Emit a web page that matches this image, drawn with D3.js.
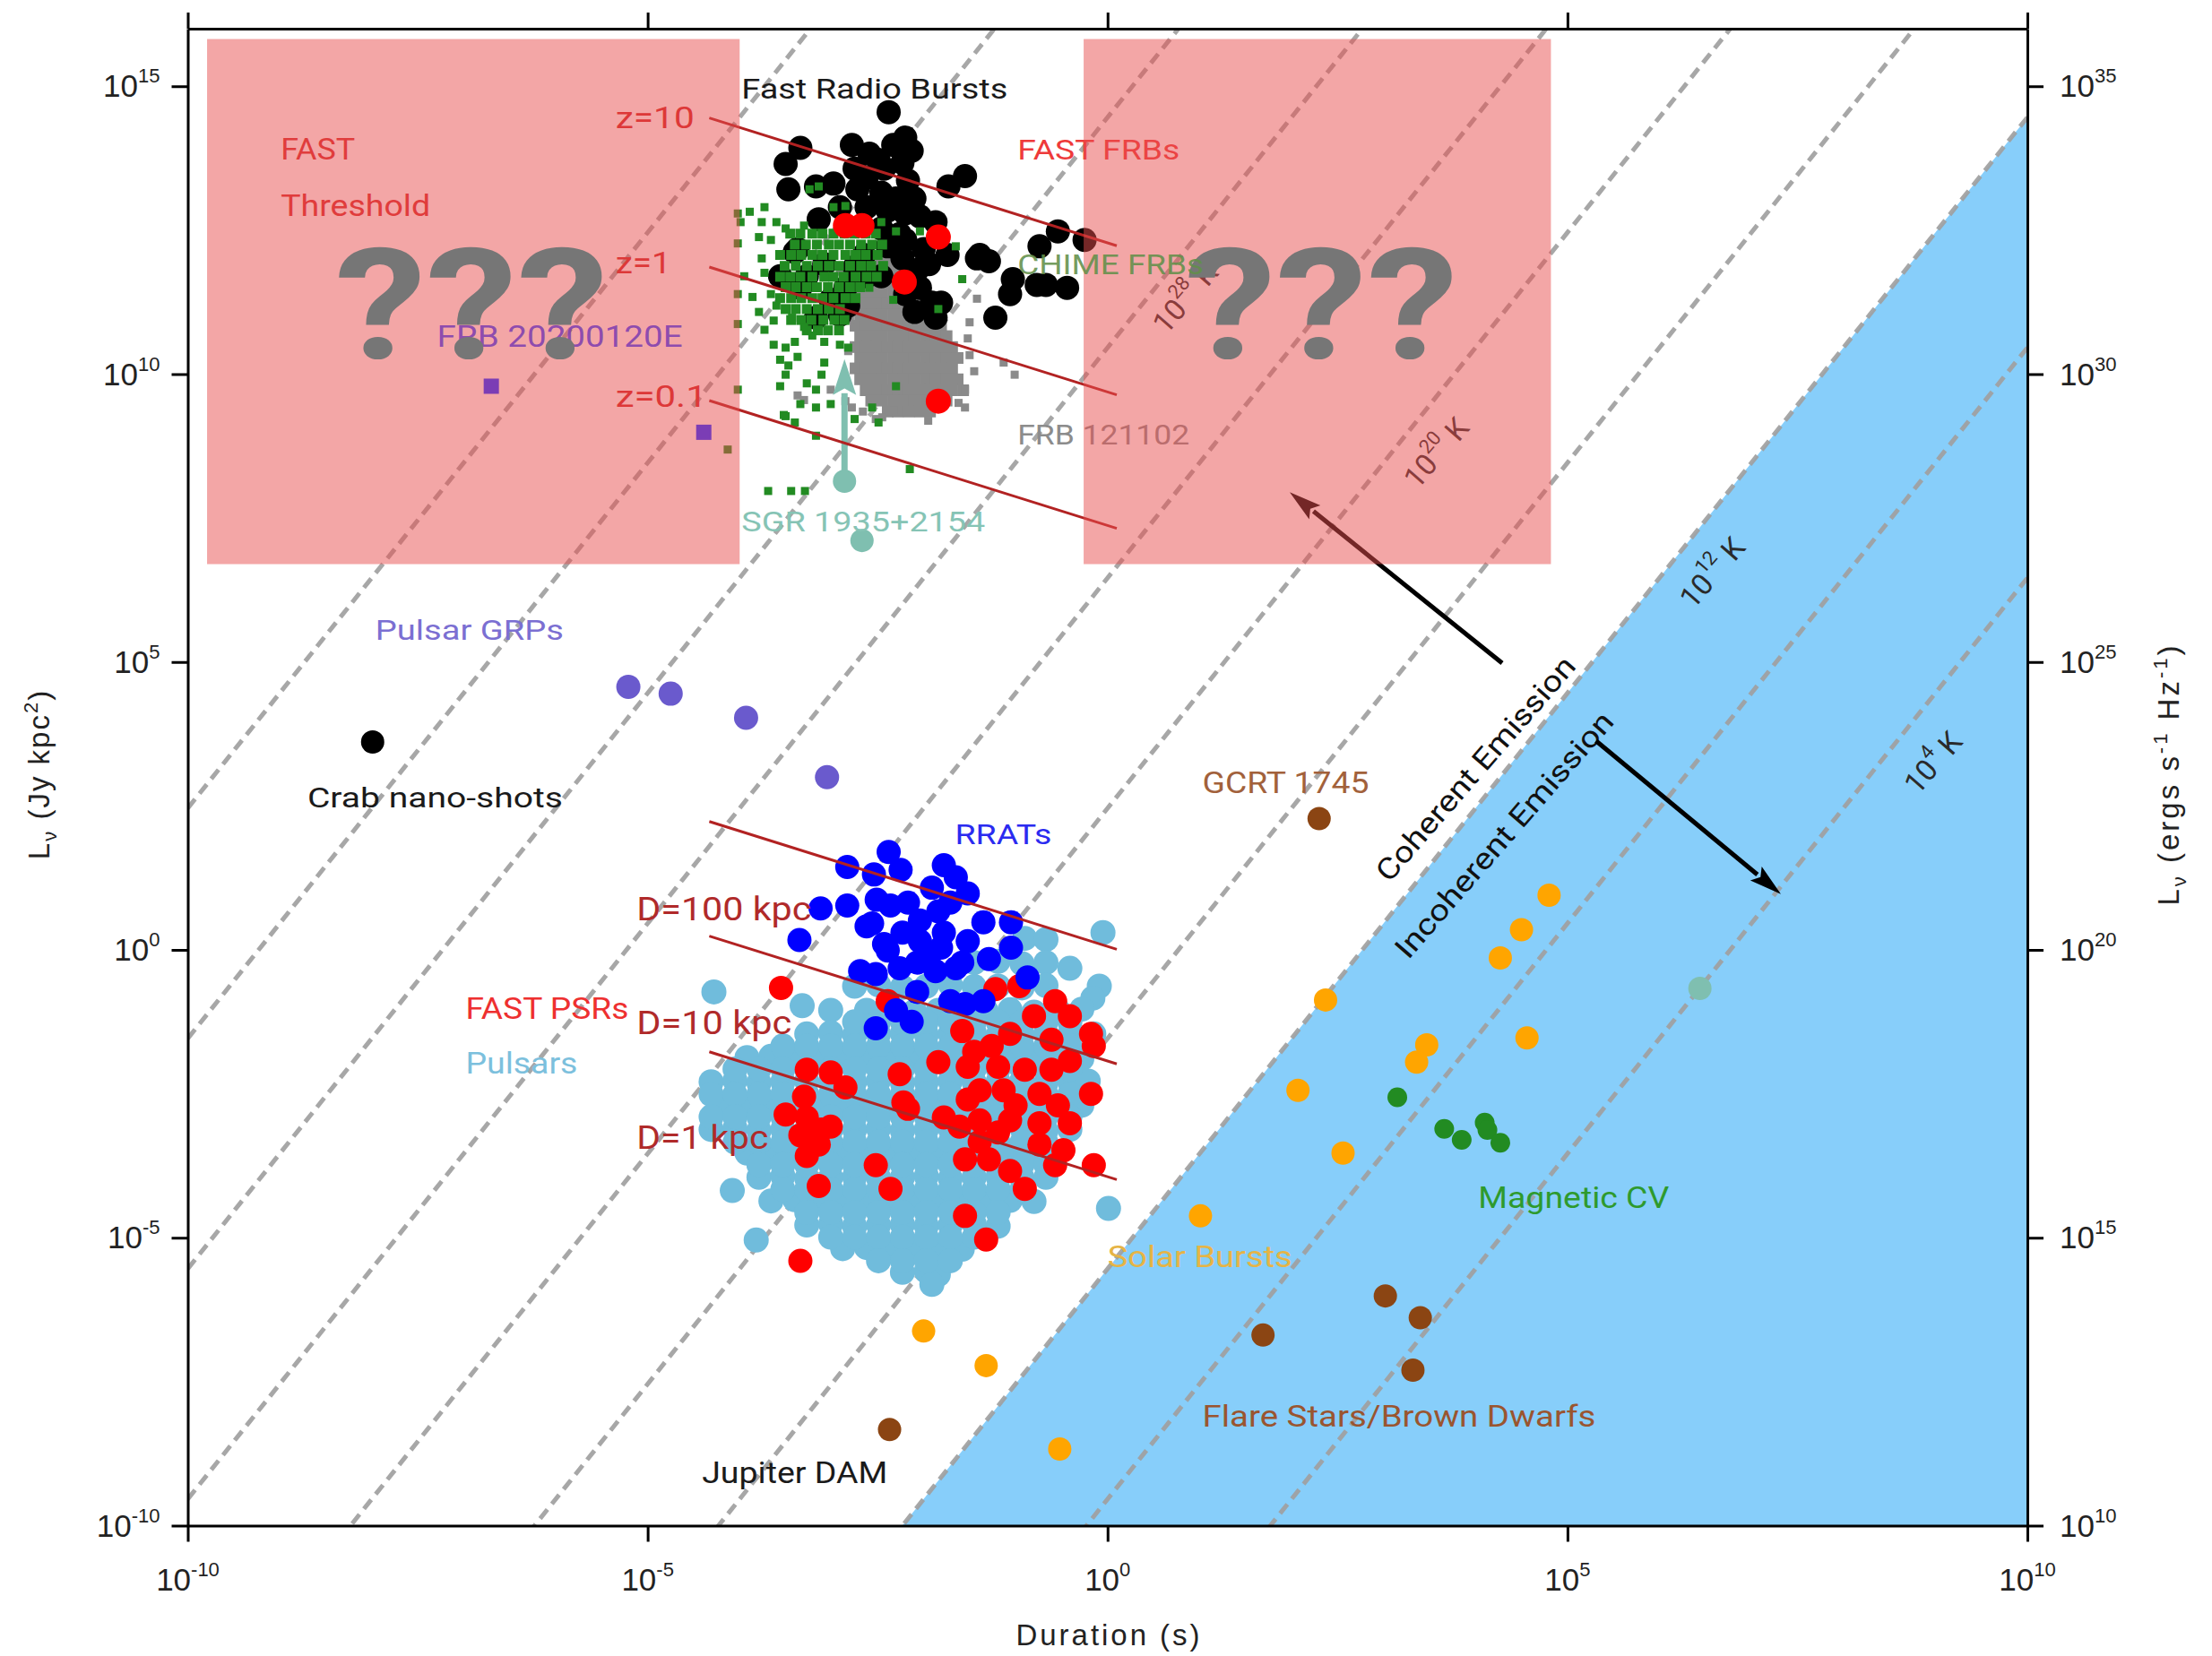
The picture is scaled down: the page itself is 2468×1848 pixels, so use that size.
<!DOCTYPE html>
<html>
<head>
<meta charset="utf-8">
<script src="https://cdn.jsdelivr.net/npm/d3@7"></script>
<style>
  html, body { margin: 0; padding: 0; background: #fff; }
  svg { display: block; }
</style>
</head>
<body>
<svg id="chart" width="2468" height="1848"></svg>
<script>
// ------------------------------------------------------------------
// Data. Every point is [log10 duration (s), log10 L_nu (Jy kpc^2)].
// ------------------------------------------------------------------
const xTickValues = [1e-10, 1e-5, 1, 1e5, 1e10];
const yTickValues = [1e-10, 1e-5, 1, 1e5, 1e10, 1e15];
const yRightTickValues = [1e10, 1e15, 1e20, 1e25, 1e30, 1e35];

// brightness-temperature contours, log10 T_B (K)
const brightnessTemps = [4, 8, 12, 16, 20, 24, 28, 32, 36, 40];
const labelledTemps = [28, 20, 12, 4];
const coherenceTemp = 12;
const logLAtUnitDuration12 = -5.54;   // log10 L_nu of the 10^12 K contour at W = 1 s

// sensitivity lines: pairs of [start, end]
const redshiftLabels = ["z=10", "z=1", "z=0.1"];
const redshiftLines = [
  [[-4.33, 14.45], [0.10, 12.23]],
  [[-4.33, 11.86], [0.10, 9.64]],
  [[-4.33, 9.54], [0.10, 7.32]]
];
const distanceLabels = ["D=100 kpc", "D=10 kpc", "D=1 kpc"];
const distanceLines = [
  [[-4.33, 2.23], [0.10, 0.01]],
  [[-4.33, 0.24], [0.10, -1.98]],
  [[-4.33, -1.77], [0.10, -3.99]]
];

// FAST threshold regions: [[logW0, logL0], [logW1, logL1]]
const fastThresholdBoxes = [
  [[-9.79, 6.70], [-4.00, 15.82]],
  [[-0.26, 6.70], [4.82, 15.82]]
];

const fastFrbs = [[-2.85, 12.58], [-2.67, 12.58], [-1.84, 12.38], [-2.21, 11.60], [-1.84, 9.53]];

const frbs = [
  [-2.38,14.55],[-2.20,14.11],[-2.13,13.88],[-2.33,13.98],[-2.49,13.72],[-2.78,13.98],[-2.59,13.83],
  [-3.50,13.65],[-3.34,13.93],[-3.47,13.21],[-3.17,13.26],[-2.98,13.31],[-2.75,13.57],[-2.62,13.41],
  [-2.43,13.57],[-2.23,13.67],[-2.17,13.36],[-2.72,13.21],[-2.46,13.15],[-2.30,13.05],[-2.10,13.05],
  [-1.55,13.44],[-1.73,13.26],[-2.62,12.90],[-2.91,12.90],[-3.14,12.69],[-2.39,12.84],[-2.20,12.79],
  [-2.04,12.74],[-1.87,12.64],[-2.46,12.53],[-2.26,12.43],[-2.39,12.22],[-2.20,12.33],[-2.00,12.17],
  [-1.74,12.07],[-1.42,12.01],[-1.29,11.96],[-0.74,12.22],[-0.54,12.48],[-0.25,12.33],[-1.03,11.65],
  [-0.77,11.55],[-0.67,11.55],[-0.44,11.50],[-1.06,11.39],[-1.94,11.91],[-2.04,11.50],[-1.91,11.24],
  [-1.87,10.98],[-1.22,10.98],[-2.65,12.07],[-2.75,11.86],[-2.62,11.70],[-2.46,11.70],[-2.23,12.01],
  [-2.07,11.81],[-3.37,12.17],[-3.27,11.70],[-2.91,11.03],[-2.82,11.19],[-1.81,11.24],[-2.20,11.39],
  [-2.10,11.08],[-1.39,12.07],[-3.40,12.12],[-3.08,11.91],[-3.56,11.70],[-3.34,11.50],[-2.85,11.50],
  [-3.01,11.29],[-3.17,10.98]
];

// FRB 121102 bursts, listed per luminosity row: [log10 L, [log10 W, ...]]
const frb121102Rows = [
  [11.96, [-2.63,-2.51,-2.40]],
  [11.78, [-2.69,-2.57,-2.45,-2.34,-2.22]],
  [11.59, [-2.74,-2.62,-2.51,-2.39,-2.28,-2.16]],
  [11.41, [-2.69,-2.57,-2.45,-2.33,-2.21,-2.10]],
  [11.22, [-2.74,-2.63,-2.51,-2.39,-2.28,-2.16,-2.04]],
  [11.03, [-2.69,-2.57,-2.45,-2.33,-2.22,-2.10,-1.98,-1.87]],
  [10.84, [-2.74,-2.63,-2.51,-2.39,-2.28,-2.16,-2.04,-1.93,-1.81]],
  [10.66, [-2.69,-2.57,-2.45,-2.33,-2.22,-2.10,-1.98,-1.87,-1.75]],
  [10.47, [-2.74,-2.63,-2.51,-2.39,-2.28,-2.16,-2.04,-1.93,-1.81,-1.69]],
  [10.28, [-2.69,-2.57,-2.45,-2.33,-2.22,-2.10,-1.98,-1.87,-1.75,-1.63]],
  [10.10, [-2.74,-2.63,-2.51,-2.39,-2.28,-2.16,-2.04,-1.93,-1.81,-1.69]],
  [9.91, [-2.69,-2.57,-2.45,-2.33,-2.22,-2.10,-1.98,-1.87,-1.75,-1.63]],
  [9.72, [-2.63,-2.51,-2.39,-2.28,-2.16,-2.04,-1.93,-1.81,-1.69,-1.57]],
  [9.54, [-2.57,-2.45,-2.33,-2.22,-2.10,-1.98,-1.87,-1.75]],
  [9.35, [-2.39,-2.28,-2.16,-2.04,-1.93]]
];
const frb121102Sparse = [
  [-1.42,11.31],[-1.01,9.99],[-1.13,10.20],[-1.55,9.73],[-2.85,9.53],[-2.78,9.42],[-3.01,9.73],
  [-3.37,9.63],[-3.30,9.55],[-2.52,9.22],[-1.95,9.19],[-2.33,9.37],[-1.55,9.42],[-2.91,11.78],
  [-1.50,10.90],[-1.45,10.05],[-1.52,10.62],[-1.50,10.33],[-2.80,10.95],[-2.82,10.40],
  [-1.62,9.50],[-2.45,9.25],[-2.66,9.35]
];

// CHIME catalogue bursts: dense core per row, then scattered bursts
const chimeRows = [
  [12.44, [-3.45,-3.34,-3.21,-3.10,-2.98,-2.86,-2.75,-2.63,-2.52]],
  [12.25, [-3.40,-3.28,-3.16,-3.03,-2.92,-2.80,-2.68,-2.56,-2.45]],
  [12.07, [-3.56,-3.44,-3.33,-3.21,-3.10,-2.98,-2.85,-2.74,-2.63,-2.50]],
  [11.88, [-3.51,-3.39,-3.27,-3.15,-3.03,-2.92,-2.80,-2.68,-2.57,-2.44]],
  [11.69, [-3.56,-3.45,-3.34,-3.21,-3.08,-2.98,-2.87,-2.74,-2.62,-2.51]],
  [11.51, [-3.50,-3.39,-3.27,-3.16,-3.04,-2.92,-2.80,-2.69]],
  [11.32, [-3.56,-3.44,-3.33,-3.21,-3.10,-2.98,-2.85,-2.74]],
  [11.13, [-3.50,-3.39,-3.27,-3.15,-3.03,-2.91]],
  [10.94, [-3.44,-3.33,-3.22,-3.09,-2.97,-2.86]],
  [10.76, [-3.27,-3.15,-3.04,-2.92]]
];
const chimeSparse = [
  [-4.02,12.79],[-3.89,12.82],[-3.73,12.90],[-3.99,12.64],[-3.76,12.64],[-3.60,12.64],[-4.02,12.27],
  [-3.79,12.38],[-3.66,12.33],[-3.50,12.53],[-3.30,12.58],[-3.24,13.21],[-3.14,13.26],[-2.98,12.90],
  [-2.85,12.92],[-2.46,12.64],[-2.30,12.48],[-2.04,12.48],[-1.65,12.22],[-1.58,11.65],[-1.84,11.13],
  [-2.33,11.29],[-4.02,11.39],[-3.86,11.34],[-4.02,10.87],[-3.73,10.77],[-3.63,10.51],[-3.50,10.46],
  [-3.40,10.56],[-3.21,10.67],[-3.08,10.56],[-2.91,10.51],[-2.82,10.46],[-3.56,10.25],[-3.47,10.15],
  [-3.50,9.99],[-3.56,9.79],[-3.27,9.84],[-3.17,9.73],[-3.11,9.99],[-4.02,9.73],[-3.34,9.48],
  [-3.17,9.42],[-3.01,9.48],[-3.50,9.27],[-3.40,9.16],[-2.49,9.16],[-2.75,9.22],[-3.17,8.93],
  [-2.26,11.50],[-2.59,11.50],[-3.76,12.01],[-3.73,11.76],[-3.66,11.39],[-3.60,11.19],[-3.43,10.98],
  [-3.30,10.82],[-3.63,10.93],[-3.79,11.08],[-2.30,9.79],[-2.56,9.42],[-3.08,10.20],[-3.37,10.30],
  [-3.95,11.70],[-3.69,7.97],[-3.44,7.97],[-3.29,7.97],[-2.15,8.35],[-3.52,9.29],[-4.13,8.69]
];

const frb20200120E = [[-6.70, 9.79], [-4.39, 8.99]];
const sgr1935 = [[-2.86, 8.14], [-2.67, 7.11], [6.44, -0.67]];
const sgr1935Rise = [[-2.86, 8.14], [-2.86, 10.26]];

const crabNanoShots = [[-7.99, 3.61]];
const pulsarGrps = [[-5.21, 4.57], [-4.75, 4.45], [-3.93, 4.03], [-3.05, 3.00]];

const rrats = [
  [-2.38,1.70],[-2.83,1.44],[-2.54,1.31],[-2.25,1.39],[-1.78,1.47],[-1.65,1.26],[-1.52,0.98],
  [-1.91,1.08],[-2.51,0.87],[-2.83,0.77],[-3.12,0.72],[-3.35,0.17],[-2.56,0.46],[-2.36,0.77],
  [-2.17,0.82],[-2.04,0.51],[-1.84,0.67],[-1.71,0.82],[-1.35,0.48],[-1.05,0.48],[-1.05,0.04],
  [-1.29,-0.16],[-1.58,-0.22],[-1.81,0.04],[-2.04,0.15],[-2.23,0.30],[-2.43,0.10],[-2.62,0.41],
  [-2.69,-0.37],[-2.52,-0.42],[-2.26,-0.32],[-2.07,-0.22],[-1.87,-0.37],[-1.65,-0.32],[-2.07,-0.73],
  [-2.30,-1.05],[-2.13,-1.25],[-2.52,-1.36],[-1.55,-0.94],[-1.35,-0.89],[-0.87,-0.48],[-1.78,0.30],
  [-1.52,0.15],[-2.39,-0.01],[-1.94,-0.11],[-1.71,-0.89]
];

const fastPsrs = [
  [-3.55,-0.66],[-2.39,-0.89],[-1.58,-1.41],[-1.84,-1.95],[-2.26,-2.16],[-2.22,-2.65],[-1.22,-0.68],
  [-0.96,-0.63],[-0.80,-1.15],[-0.57,-0.89],[-0.41,-1.15],[-0.18,-1.46],[-0.15,-1.67],[-1.06,-1.46],
  [-1.26,-1.67],[-1.45,-1.77],[-1.52,-2.03],[-1.19,-2.03],[-0.90,-2.08],[-0.61,-2.08],[-0.41,-1.93],
  [-1.39,-2.44],[-1.13,-2.44],[-1.52,-2.60],[-0.74,-2.50],[-0.54,-2.70],[-0.18,-2.50],[-0.41,-3.01],
  [-0.74,-3.01],[-1.06,-2.96],[-1.19,-3.17],[-1.39,-3.33],[-1.55,-3.64],[-1.29,-3.64],[-1.06,-3.84],
  [-0.74,-3.38],[-0.48,-3.48],[-0.57,-3.74],[-0.15,-3.74],[-1.78,-2.91],[-1.61,-3.07],[-3.27,-2.08],
  [-3.01,-2.13],[-2.85,-2.39],[-3.30,-2.55],[-3.50,-2.86],[-3.27,-2.91],[-3.01,-3.07],[-3.34,-3.22],
  [-3.14,-3.38],[-3.27,-3.58],[-3.11,-3.12],[-2.52,-3.74],[-2.36,-4.15],[-3.14,-4.10],[-0.90,-4.15],
  [-1.55,-4.62],[-1.32,-5.03],[-3.34,-5.40],[-2.17,-2.76],[-1.39,-2.96],[-1.00,-2.70],[-0.61,-1.56]
];

const pulsars = [
  [-0.90,0.20],[-0.67,0.18],[-0.05,0.30],
  [-1.45,-0.22],[-1.19,-0.20],[-0.93,-0.24],[-0.67,-0.22],[-0.41,-0.32],
  [-2.75,-0.63],[-2.49,-0.61],[-2.23,-0.65],[-1.97,-0.63],[-1.71,-0.60],[-1.45,-0.64],[-1.19,-0.63],
  [-0.93,-0.66],[-0.67,-0.62],[-0.09,-0.63],[-0.16,-0.84],[-4.28,-0.73],[-3.32,-0.97],[-3.01,-1.05],
  [-2.62,-1.05],[-2.36,-1.03],[-2.10,-1.07],[-1.84,-1.05],[-1.58,-1.02],[-1.32,-1.06],[-1.06,-1.04],
  [-0.80,-1.08],[-0.54,-1.05],[-0.28,-1.03],
  [-3.27,-1.46],[-3.01,-1.44],[-2.75,-1.48],[-2.49,-1.46],[-2.23,-1.45],[-1.97,-1.47],[-1.71,-1.46],
  [-1.45,-1.44],[-1.19,-1.48],[-0.93,-1.46],[-0.67,-1.45],[-0.41,-1.47],[-0.15,-1.46],
  [-3.92,-1.87],[-3.66,-1.85],[-3.40,-1.89],[-3.14,-1.87],[-2.88,-1.86],[-2.62,-1.88],[-2.36,-1.87],
  [-2.10,-1.85],[-1.84,-1.89],[-1.58,-1.87],[-1.32,-1.86],[-1.06,-1.88],[-0.80,-1.87],[-0.54,-1.85],[-0.28,-1.89],
  [-4.31,-2.29],[-4.05,-2.27],[-3.79,-2.31],[-3.53,-2.29],[-3.27,-2.28],[-3.01,-2.30],[-2.75,-2.29],
  [-2.49,-2.27],[-2.23,-2.31],[-1.97,-2.29],[-1.71,-2.28],[-1.45,-2.30],[-1.19,-2.29],[-0.93,-2.27],
  [-0.67,-2.31],[-0.41,-2.29],[-0.21,-2.28],
  [-4.18,-2.70],[-3.92,-2.68],[-3.66,-2.72],[-3.40,-2.70],[-3.14,-2.69],[-2.88,-2.71],[-2.62,-2.70],
  [-2.36,-2.68],[-2.10,-2.72],[-1.84,-2.70],[-1.58,-2.69],[-1.32,-2.71],[-1.06,-2.70],[-0.80,-2.68],
  [-0.54,-2.72],[-0.28,-2.70],
  [-4.31,-3.12],[-4.05,-3.10],[-3.79,-3.14],[-3.53,-3.12],[-3.27,-3.11],[-3.01,-3.13],[-2.75,-3.12],
  [-2.49,-3.10],[-2.23,-3.14],[-1.97,-3.12],[-1.71,-3.11],[-1.45,-3.13],[-1.19,-3.12],[-0.93,-3.10],
  [-0.67,-3.14],[-0.41,-3.12],
  [-3.92,-3.53],[-3.66,-3.51],[-3.40,-3.55],[-3.14,-3.53],[-2.88,-3.52],[-2.62,-3.54],[-2.36,-3.53],
  [-2.10,-3.51],[-1.84,-3.55],[-1.58,-3.53],[-1.32,-3.52],[-1.06,-3.54],[-0.80,-3.53],[-0.54,-3.51],
  [-3.79,-3.95],[-3.53,-3.93],[-3.27,-3.97],[-3.01,-3.95],[-2.75,-3.94],[-2.49,-3.96],[-2.23,-3.95],
  [-1.97,-3.93],[-1.71,-3.97],[-1.45,-3.95],[-1.19,-3.94],[-0.93,-3.96],[-0.67,-3.95],[-4.08,-4.18],
  [-3.66,-4.36],[-3.40,-4.34],[-3.14,-4.38],[-2.88,-4.36],[-2.62,-4.35],[-2.36,-4.37],[-2.10,-4.36],
  [-1.84,-4.34],[-1.58,-4.38],[-1.32,-4.36],[-1.06,-4.35],[-0.80,-4.37],[0.01,-4.49],
  [-3.27,-4.78],[-3.01,-4.76],[-2.75,-4.80],[-2.49,-4.78],[-2.23,-4.77],[-1.97,-4.79],[-1.71,-4.78],
  [-1.45,-4.76],[-1.19,-4.80],
  [-2.88,-5.19],[-2.62,-5.17],[-2.36,-5.21],[-2.10,-5.19],[-1.84,-5.18],[-1.58,-5.20],[-3.82,-5.04],
  [-2.23,-5.60],[-1.97,-5.58],[-1.84,-5.64],[-1.91,-5.81]
];
// further pulsars in the dense part of the population, per luminosity row
const pulsarRows = [
  [-1.25, [-2.75,-2.49,-2.23,-1.97,-1.71,-1.45,-1.19,-0.93,-0.67,-0.41]],
  [-1.67, [-3.53,-3.27,-3.01,-2.75,-2.49,-2.23,-1.97,-1.71,-1.45,-1.19,-0.93,-0.67,-0.41]],
  [-2.07, [-4.05,-3.79,-3.53,-3.27,-3.01,-2.75,-2.49,-2.23,-1.97,-1.71,-1.45,-1.19,-0.93,-0.67,-0.41]],
  [-2.51, [-4.31,-4.05,-3.79,-3.53,-3.27,-3.01,-2.75,-2.49,-2.23,-1.97,-1.71,-1.45,-1.19,-0.93,-0.67,-0.41]],
  [-2.90, [-4.31,-4.05,-3.79,-3.53,-3.27,-3.01,-2.75,-2.49,-2.23,-1.97,-1.71,-1.45,-1.19,-0.93,-0.67,-0.41]],
  [-3.34, [-4.05,-3.79,-3.53,-3.27,-3.01,-2.75,-2.49,-2.23,-1.97,-1.71,-1.45,-1.19,-0.93,-0.67]],
  [-3.73, [-3.79,-3.53,-3.27,-3.01,-2.75,-2.49,-2.23,-1.97,-1.71,-1.45,-1.19,-0.93,-0.67]],
  [-4.16, [-3.53,-3.27,-3.01,-2.75,-2.49,-2.23,-1.97,-1.71,-1.45,-1.19,-0.93]],
  [-4.56, [-3.27,-3.01,-2.75,-2.49,-2.23,-1.97,-1.71,-1.45,-1.19]],
  [-4.99, [-3.01,-2.75,-2.49,-2.23,-1.97,-1.71,-1.45]],
  [-5.40, [-2.49,-2.23,-1.97,-1.71]]
];

const gcrt1745 = [[2.30, 2.28]];
const solarBursts = [
  [4.80,0.95],[4.50,0.35],[4.27,-0.14],[2.37,-0.87],[3.47,-1.65],[3.36,-1.95],[4.56,-1.53],
  [2.07,-2.44],[2.56,-3.53],[1.01,-4.62],[-2.00,-6.62],[-1.32,-7.22],[-0.52,-8.67]
];
const magneticCVs = [[3.15,-2.56],[3.66,-3.11],[3.85,-3.30],[4.10,-3.00],[4.13,-3.13],[4.27,-3.35]];
const flareStars = [[3.02,-6.01],[3.40,-6.39],[1.69,-6.69],[3.32,-7.30]];
const jupiterDam = [[-2.37, -8.33]];

// annotation arrows across the coherence boundary: [tail, tip]
const coherentArrow = [[4.29, 4.98], [1.98, 7.95]];
const incoherentArrow = [[5.31, 3.63], [7.32, 0.97]];

// ------------------------------------------------------------------
// Label layout (anchor in data coordinates)
// ------------------------------------------------------------------
const fontAxis = "'Liberation Sans', Arial, Helvetica, sans-serif";
const fontLabel = "Roboto, 'Liberation Sans', Arial, sans-serif";

const labelSpecs = [
  { t: "Fast Radio Bursts", w: -3.98, l: 14.78, c: "#1a1a1a", s: 31, len: 297 },
  { t: "FAST FRBs", w: -0.98, l: 13.73, c: "#ee3a3a", s: 31, len: 181 },
  { t: "FRB 121102", w: -0.98, l: 8.78, c: "#8c8c8c", s: 31, len: 192 },
  { t: "SGR 1935+2154", w: -3.98, l: 7.27, c: "#86c4b5", s: 31, len: 272 },
  { t: "Pulsar GRPs", w: -7.96, l: 5.39, c: "#7b6fd2", s: 32, len: 210 },
  { t: "Crab nano-shots", w: -8.70, l: 2.48, c: "#1a1a1a", s: 32, len: 285 },
  { t: "RRATs", w: -1.66, l: 1.83, c: "#2b2bf0", s: 31, len: 108 },
  { t: "FAST PSRs", w: -6.98, l: -1.20, c: "#ee3030", s: 33, len: 182 },
  { t: "Pulsars", w: -6.98, l: -2.15, c: "#7cc0dd", s: 33, len: 125 },
  { t: "GCRT 1745", w: 1.03, l: 2.72, c: "#a2613b", s: 33, len: 186 },
  { t: "Magnetic CV", w: 4.03, l: -4.49, c: "#2e9a2e", s: 33, len: 213 },
  { t: "Solar Bursts", w: 0.00, l: -5.51, c: "#e6b445", s: 33, len: 206 },
  { t: "Flare Stars/Brown Dwarfs", w: 1.03, l: -8.28, c: "#9a5530", s: 33, len: 439 },
  { t: "Jupiter DAM", w: -4.41, l: -9.26, c: "#1a1a1a", s: 33, len: 207 }
];
const distanceLabelPos = [[-5.12, 0.52], [-5.12, -1.47], [-5.12, -3.46]];
const distanceLabelLen = [195, 173, 147];
const redshiftLabelPos = [[-5.35, 14.28], [-5.35, 11.75], [-5.35, 9.43]];
const redshiftLabelLen = [88, 62, 102];
const tempLabelPos = [[0.84, 11.33], [3.57, 8.64], [6.57, 6.56], [8.97, 3.26]];
const emissionLabels = [
  { t: "Coherent Emission", w: 4.00, l: 3.15, len: 320 },
  { t: "Incoherent Emission", w: 4.31, l: 2.00, len: 352 }
];

// ------------------------------------------------------------------
// Scales
// ------------------------------------------------------------------
const m = { l: 209.5, r: 2262, t: 32, b: 1702.5 };
const x = d3.scaleLog().domain([1e-10, 1e10]).range([m.l, m.r]);
const y = d3.scaleLog().domain([1e-10, 1e16]).range([m.b, m.t]);
const yErg = d3.scaleLog().domain([1e10, 1e36]).range([m.b, m.t]);

const P = v => Math.pow(10, v);
const px = d => x(P(d[0]));
const py = d => y(P(d[1]));
const rows = r => r.flatMap(([l, ws]) => ws.map(w => [w, l]));

const svg = d3.select("#chart");
svg.append("rect").attr("width", 2468).attr("height", 1848).attr("fill", "#fff");

const defs = svg.append("defs");
defs.append("clipPath").attr("id", "plotClip")
  .append("rect").attr("x", m.l).attr("y", m.t).attr("width", m.r - m.l).attr("height", m.b - m.t);

const plot = svg.append("g").attr("clip-path", "url(#plotClip)");

// constant brightness-temperature contour: L ∝ T_B W^2
const contourL = (logT, logW) => 2 * logW + (logT - coherenceTemp) + logLAtUnitDuration12;

// incoherent (T_B < 10^12 K) region
plot.append("path")
  .attr("d", d3.line()([
    [x(1e-10), y(P(contourL(coherenceTemp, -10)))],
    [x(1e10), y(P(contourL(coherenceTemp, 10)))],
    [x(1e10), y(P(contourL(coherenceTemp, -10)))]
  ]) + "Z")
  .attr("fill", "#87cefa");

// dashed brightness-temperature contours
plot.append("g").selectAll("line").data(brightnessTemps).join("line")
  .attr("x1", x(1e-10)).attr("y1", t => y(P(contourL(t, -10))))
  .attr("x2", x(1e10)).attr("y2", t => y(P(contourL(t, 10))))
  .attr("stroke", "#a0a0a0").attr("stroke-opacity", 0.92)
  .attr("stroke-width", 5).attr("stroke-dasharray", "13,8");

// ---------------- markers ----------------
function dots(data, fill, r) {
  plot.append("g").selectAll("circle").data(data).join("circle")
    .attr("cx", px).attr("cy", py).attr("r", r).attr("fill", fill);
}
function squares(parent, data, fill, s) {
  parent.append("g").selectAll("rect").data(data).join("rect")
    .attr("x", d => px(d) - s / 2).attr("y", d => py(d) - s / 2)
    .attr("width", s).attr("height", s).attr("fill", fill);
}

dots(pulsars.concat(rows(pulsarRows)), "#70bcdc", 14);
dots(fastPsrs, "#ff0000", 13.5);
dots(rrats, "#0000ff", 13.5);

squares(plot, rows(frb121102Rows), "#8a8a8a", 13);
squares(plot, frb121102Sparse, "#8a8a8a", 9);
dots(frbs, "#000000", 13.5);
squares(plot, rows(chimeRows), "#228b22", 11);
squares(plot, chimeSparse, "#228b22", 9);
dots(fastFrbs, "#ff0000", 14);

dots(crabNanoShots, "#000000", 13);
dots(pulsarGrps, "#6a5acd", 13.5);
dots(gcrt1745, "#8b4513", 13);
dots(solarBursts, "#ffa500", 13);
dots(magneticCVs, "#228b22", 11);
dots(flareStars, "#8b4513", 13);
dots(jupiterDam, "#8b4513", 13);

// arrow helper (shaft + filled head) in pixel space
function arrow(parent, from, to, color, width, headLen, headW) {
  const x0 = px(from), y0 = py(from), x1 = px(to), y1 = py(to);
  const dx = x1 - x0, dy = y1 - y0, len = Math.hypot(dx, dy);
  const ux = dx / len, uy = dy / len;
  const bx = x1 - ux * headLen, by = y1 - uy * headLen;
  parent.append("line").attr("x1", x0).attr("y1", y0)
    .attr("x2", bx + ux * 2).attr("y2", by + uy * 2)
    .attr("stroke", color).attr("stroke-width", width);
  parent.append("path")
    .attr("d", `M${x1},${y1}L${bx - uy * headW / 2},${by + ux * headW / 2}L${bx + ux * headLen * 0.18},${by + uy * headLen * 0.18}L${bx + uy * headW / 2},${by - ux * headW / 2}Z`)
    .attr("fill", color);
}

// SGR 1935+2154
arrow(plot, sgr1935Rise[0], sgr1935Rise[1], "#7fbfb0", 7, 40, 26);
dots(sgr1935, "#7fbfb0", 13);

// sensitivity lines
const sens = svg.append("g").attr("stroke", "#b22222").attr("stroke-width", 3);
[...redshiftLines, ...distanceLines].forEach(seg => {
  sens.append("line").attr("x1", px(seg[0])).attr("y1", py(seg[0]))
    .attr("x2", px(seg[1])).attr("y2", py(seg[1]));
});

// ---------------- annotations below the threshold shading ----------------
const ann = svg.append("g").attr("font-family", fontLabel);

const slopeAngle = -49;
tempLabelPos.forEach((p, i) => {
  const t = ann.append("text")
    .attr("transform", `translate(${px(p)},${py(p)}) rotate(${slopeAngle})`)
    .attr("text-anchor", "middle").attr("dominant-baseline", "central")
    .attr("font-size", 33).attr("fill", "#2a2a2a");
  t.append("tspan").text("10");
  t.append("tspan").attr("dy", -13).attr("font-size", 22).text(labelledTemps[i]);
  t.append("tspan").attr("dy", 13).text(" K");
});
emissionLabels.forEach(e => {
  ann.append("text")
    .attr("transform", `translate(${x(P(e.w))},${y(P(e.l))}) rotate(${slopeAngle})`)
    .attr("text-anchor", "middle").attr("dominant-baseline", "central")
    .attr("font-size", 33).attr("fill", "#111")
    .attr("textLength", e.len).attr("lengthAdjust", "spacingAndGlyphs")
    .text(e.t);
});

arrow(ann, coherentArrow[0], coherentArrow[1], "#000", 5, 36, 20);
arrow(ann, incoherentArrow[0], incoherentArrow[1], "#000", 5, 36, 20);

labelSpecs.forEach(d => {
  ann.append("text").attr("x", x(P(d.w))).attr("y", y(P(d.l)))
    .attr("font-size", d.s).attr("fill", d.c)
    .attr("textLength", d.len).attr("lengthAdjust", "spacingAndGlyphs")
    .text(d.t);
});
distanceLabels.forEach((t, i) => {
  ann.append("text").attr("x", px(distanceLabelPos[i])).attr("y", py(distanceLabelPos[i]))
    .attr("font-size", 36).attr("fill", "#b02a2a")
    .attr("textLength", distanceLabelLen[i]).attr("lengthAdjust", "spacingAndGlyphs")
    .text(t);
});

// ---------------- FAST threshold shading ----------------
svg.append("g").selectAll("rect").data(fastThresholdBoxes).join("rect")
  .attr("x", d => px(d[0])).attr("y", d => py(d[1]))
  .attr("width", d => px(d[1]) - px(d[0])).attr("height", d => py(d[0]) - py(d[1]))
  .attr("fill", "rgb(231,77,77)").attr("fill-opacity", 0.5);

// ---------------- items on top of the shading ----------------
const overlay = svg.append("g").attr("font-family", fontLabel);
squares(overlay, frb20200120E, "#7b3db5", 17);

overlay.append("text").attr("x", x(P(-8.99))).attr("y", y(P(13.73)))
  .attr("font-size", 33).attr("fill", "#e03c3c")
  .attr("textLength", 83).attr("lengthAdjust", "spacingAndGlyphs").text("FAST");
overlay.append("text").attr("x", x(P(-8.99))).attr("y", y(P(12.75)))
  .attr("font-size", 33).attr("fill", "#e03c3c")
  .attr("textLength", 167).attr("lengthAdjust", "spacingAndGlyphs").text("Threshold");
overlay.append("text").attr("x", x(P(-7.29))).attr("y", y(P(10.47)))
  .attr("font-size", 33).attr("fill", "#8040b0").attr("fill-opacity", 0.9)
  .attr("textLength", 274).attr("lengthAdjust", "spacingAndGlyphs").text("FRB 20200120E");

redshiftLabels.forEach((t, i) => {
  overlay.append("text").attr("x", px(redshiftLabelPos[i])).attr("y", py(redshiftLabelPos[i]))
    .attr("font-size", 33).attr("fill", "#dd3838")
    .attr("textLength", redshiftLabelLen[i]).attr("lengthAdjust", "spacingAndGlyphs")
    .text(t);
});

[[-8.40, 10.27], [0.84, 10.27]].forEach(p => {
  overlay.append("text").attr("x", px(p)).attr("y", py(p))
    .attr("font-size", 172).attr("font-weight", "bold").attr("fill", "#767676")
    .attr("textLength", 305).attr("lengthAdjust", "spacingAndGlyphs")
    .text("???");
});

overlay.append("text").attr("x", x(P(-0.98))).attr("y", y(P(11.73)))
  .attr("font-size", 31).attr("fill", "#62904a").attr("fill-opacity", 0.9)
  .attr("textLength", 208).attr("lengthAdjust", "spacingAndGlyphs").text("CHIME FRBs");

// ---------------- axes ----------------
const axes = svg.append("g");
function styleAxis(g) {
  g.selectAll("path, line").attr("stroke", "#000").attr("stroke-width", 3);
  g.selectAll("text").remove();
}
axes.append("g").attr("transform", `translate(0,${m.b})`)
  .call(d3.axisBottom(x).tickValues(xTickValues).tickSize(18).tickSizeOuter(0)).call(styleAxis);
axes.append("g").attr("transform", `translate(0,${m.t})`)
  .call(d3.axisTop(x).tickValues(xTickValues).tickSize(18).tickSizeOuter(0)).call(styleAxis);
axes.append("g").attr("transform", `translate(${m.l},0)`)
  .call(d3.axisLeft(y).tickValues(yTickValues).tickSize(18).tickSizeOuter(0)).call(styleAxis);
axes.append("g").attr("transform", `translate(${m.r},0)`)
  .call(d3.axisRight(yErg).tickValues(yRightTickValues).tickSize(18).tickSizeOuter(0)).call(styleAxis);

const tickText = axes.append("g").attr("font-family", fontAxis).attr("fill", "#222");
function powerLabel(sel, v) {
  sel.append("tspan").attr("font-size", 35).text("10");
  sel.append("tspan").attr("font-size", 22).attr("dy", -16).text(Math.round(Math.log10(v)));
}
xTickValues.forEach(v => {
  tickText.append("text").attr("x", x(v)).attr("y", m.b + 72).attr("text-anchor", "middle")
    .call(s => powerLabel(s, v));
});
yTickValues.forEach(v => {
  tickText.append("text").attr("x", m.l - 31).attr("y", y(v) + 12).attr("text-anchor", "end")
    .call(s => powerLabel(s, v));
});
yRightTickValues.forEach(v => {
  tickText.append("text").attr("x", m.r + 36).attr("y", yErg(v) + 12).attr("text-anchor", "start")
    .call(s => powerLabel(s, v));
});

// axis titles
const titles = svg.append("g").attr("font-family", fontAxis).attr("fill", "#222").attr("font-size", 33);
titles.append("text").attr("x", 1236).attr("y", 1836).attr("text-anchor", "middle")
  .attr("textLength", 205).attr("lengthAdjust", "spacing").text("Duration (s)");

const leftTitle = titles.append("text").attr("transform", "translate(55,864) rotate(-90)")
  .attr("text-anchor", "middle").attr("letter-spacing", 2);
leftTitle.append("tspan").text("L");
leftTitle.append("tspan").attr("font-size", 22).attr("dy", 8).text("ν");
leftTitle.append("tspan").attr("dy", -8).text(" (Jy kpc");
leftTitle.append("tspan").attr("font-size", 22).attr("dy", -13).text("2");
leftTitle.append("tspan").attr("dy", 13).text(")");

const rightTitle = titles.append("text").attr("transform", "translate(2431,864) rotate(-90)")
  .attr("text-anchor", "middle").attr("letter-spacing", 3);
rightTitle.append("tspan").text("L");
rightTitle.append("tspan").attr("font-size", 22).attr("dy", 8).text("ν");
rightTitle.append("tspan").attr("dy", -8).text(" (ergs s");
rightTitle.append("tspan").attr("font-size", 22).attr("dy", -13).text("-1");
rightTitle.append("tspan").attr("dy", 13).text(" Hz");
rightTitle.append("tspan").attr("font-size", 22).attr("dy", -13).text("-1");
rightTitle.append("tspan").attr("dy", 13).text(")");
</script>
</body>
</html>
